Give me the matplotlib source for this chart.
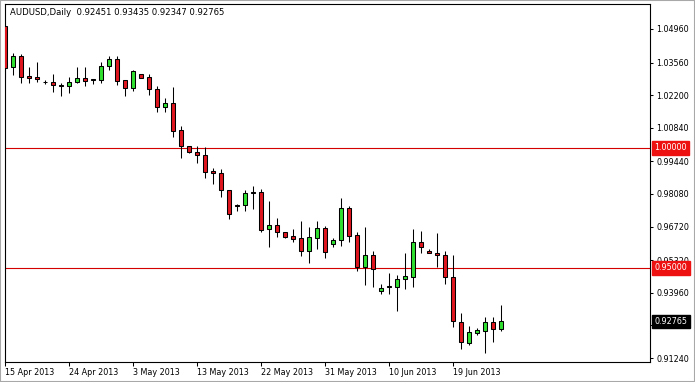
import matplotlib
matplotlib.use("Agg")
import matplotlib.pyplot as plt
from matplotlib.patches import Rectangle
import numpy as np

# -----------------------
# Chart data (daily AUDUSD, one bar per index, Sunday bars included)
# -----------------------
SYMBOL = "AUDUSD,Daily"

opens = [1.0509, 1.0336, 1.0383, 1.0300, 1.0296, 1.0275, 1.0275, 1.0262, 1.0257, 1.0274,
         1.0292, 1.0288, 1.0282, 1.0340, 1.0371, 1.0282, 1.0251, 1.0307, 1.0295, 1.0246,
         1.0172, 1.0186, 1.0075, 1.0007, 0.9982, 0.9971, 0.9904, 0.9894, 0.9823, 0.9762,
         0.9761, 0.9815, 0.9816, 0.9661, 0.9677, 0.9648, 0.9632, 0.9624, 0.9569, 0.9626,
         0.9665, 0.9598, 0.9614, 0.9748, 0.9637, 0.9505, 0.9554, 0.9402, 0.9423, 0.9422,
         0.9452, 0.9463, 0.9608, 0.9570, 0.9563, 0.9554, 0.9461, 0.9274, 0.9188, 0.9230,
         0.9238, 0.9273, 0.92451]

highs = [1.0521, 1.0397, 1.0391, 1.0339, 1.0358, 1.0283, 1.0307, 1.0272, 1.0296, 1.0338,
         1.0338, 1.0289, 1.0358, 1.0382, 1.0382, 1.0285, 1.0324, 1.0308, 1.0307, 1.0257,
         1.0207, 1.0255, 1.0093, 1.0009, 1.0007, 1.0003, 0.9915, 0.9911, 0.9825, 0.9766,
         0.9825, 0.9841, 0.9828, 0.9779, 0.9707, 0.9649, 0.9661, 0.9695, 0.9669, 0.9695,
         0.9676, 0.9623, 0.9790, 0.9758, 0.9648, 0.9670, 0.9570, 0.9431, 0.9477, 0.9469,
         0.9561, 0.9662, 0.9655, 0.9579, 0.9644, 0.9570, 0.9554, 0.9312, 0.9258, 0.9250,
         0.9296, 0.9295, 0.93435]

lows = [1.0292, 1.0304, 1.0272, 1.0270, 1.0276, 1.0268, 1.0235, 1.0218, 1.0230, 1.0270,
        1.0260, 1.0268, 1.0272, 1.0325, 1.0262, 1.0218, 1.0239, 1.0292, 1.0220, 1.0151,
        1.0151, 1.0044, 0.9957, 0.9978, 0.9936, 0.9873, 0.9848, 0.9794, 0.9705, 0.9736,
        0.9736, 0.9747, 0.9651, 0.9588, 0.9630, 0.9623, 0.9608, 0.9551, 0.9521, 0.9579,
        0.9542, 0.9586, 0.9591, 0.9607, 0.9487, 0.9428, 0.9421, 0.9392, 0.9392, 0.9321,
        0.9411, 0.9421, 0.9563, 0.9560, 0.9505, 0.9434, 0.9255, 0.9160, 0.9177, 0.9219,
        0.9144, 0.9192, 0.92347]

closes = [1.0335, 1.0383, 1.0297, 1.0293, 1.0286, 1.0274, 1.0261, 1.0258, 1.0275, 1.0292,
          1.0278, 1.0285, 1.0342, 1.0371, 1.0280, 1.0251, 1.0320, 1.0293, 1.0245, 1.0172,
          1.0186, 1.0072, 1.0009, 0.9982, 0.9969, 0.9901, 0.9894, 0.9823, 0.9725, 0.9758,
          0.9812, 0.9812, 0.9658, 0.9677, 0.9648, 0.9630, 0.9620, 0.9569, 0.9627, 0.9665,
          0.9565, 0.9616, 0.9748, 0.9634, 0.9505, 0.9554, 0.9497, 0.9416, 0.9420, 0.9454,
          0.9466, 0.9608, 0.9586, 0.9561, 0.9552, 0.9461, 0.9277, 0.9190, 0.9231, 0.9241,
          0.9273, 0.9244, 0.92765]

date_tick_pos = [0, 8, 16, 24, 32, 40, 48, 56]
date_tick_labels = ["15 Apr 2013", "24 Apr 2013", "3 May 2013", "13 May 2013",
                    "22 May 2013", "31 May 2013", "10 Jun 2013", "19 Jun 2013"]

price_ticks = [1.04960, 1.03560, 1.02200, 1.00840, 0.99440, 0.98080,
               0.96720, 0.95320, 0.93960, 0.92600, 0.91240]

levels = [1.00000, 0.95000]

BULL = "#2fe02f"
BEAR = "#e0161e"
LEVEL = "#d40000"
FS = 5.8


# -----------------------
# Candles
# -----------------------
def draw_candles(ax):
    o = np.array(opens)
    h = np.array(highs)
    l = np.array(lows)
    c = np.array(closes)
    x = np.arange(len(o))
    up = c >= o

    ax.vlines(x, l, h, color="black", lw=0.75, zorder=2)
    lo = np.minimum(o, c)
    hgt = np.abs(c - o)
    ax.bar(x[up], hgt[up], bottom=lo[up], width=0.58, color=BULL,
           edgecolor="black", linewidth=0.75, zorder=3)
    ax.bar(x[~up], hgt[~up], bottom=lo[~up], width=0.58, color=BEAR,
           edgecolor="black", linewidth=0.75, zorder=3)


def price_tag(ax, y, fc):
    ax.annotate(f"{y:.5f}", xy=(1, y), xycoords=("axes fraction", "data"),
                xytext=(3.2, 0), textcoords="offset points", ha="left", va="center",
                color="white", fontsize=FS, zorder=6, annotation_clip=False,
                bbox=dict(boxstyle="square,pad=0.3", fc=fc, ec=fc))


# -----------------------
# Figure
# -----------------------
fig = plt.figure(figsize=(6.95, 3.82), dpi=100)
fig.patch.set_facecolor("white")
ax = fig.add_axes([4.5 / 695, 20 / 382, 645.5 / 695, 358 / 382])

draw_candles(ax)

for lv in levels:
    ax.axhline(lv, color=LEVEL, lw=0.8, zorder=1)

ax.set_xlim(-0.06, 80.6)
ax.set_ylim(0.91074, 1.0600)

ax.yaxis.tick_right()
ax.set_yticks(price_ticks)
ax.set_yticklabels([f"{v:.5f}" for v in price_ticks])
ax.tick_params(axis="y", length=2.2, width=0.75, pad=2.2, labelsize=FS)

ax.set_xticks(date_tick_pos)
ax.set_xticklabels(date_tick_labels, ha="left")
ax.tick_params(axis="x", length=2.6, width=0.75, pad=1.6, labelsize=FS)

for sp in ax.spines.values():
    sp.set_color("black")
    sp.set_linewidth(0.8)

# price tags sit over the axis labels, as in the terminal
for lv in levels:
    price_tag(ax, lv, "#ee1111")
price_tag(ax, closes[-1], "black")

title = f"{SYMBOL}  {opens[-1]:.5f} {highs[-1]:.5f} {lows[-1]:.5f} {closes[-1]:.5f}"
fig.text(10 / 695, 1 - 12.5 / 382, title, fontsize=6.1, va="center", ha="left")

fig.patches.append(Rectangle((0, 0), 1, 1, transform=fig.transFigure,
                             fill=False, ec="#a8a8a8", lw=1.5))

fig.savefig("out.png", dpi=100)
plt.close(fig)
